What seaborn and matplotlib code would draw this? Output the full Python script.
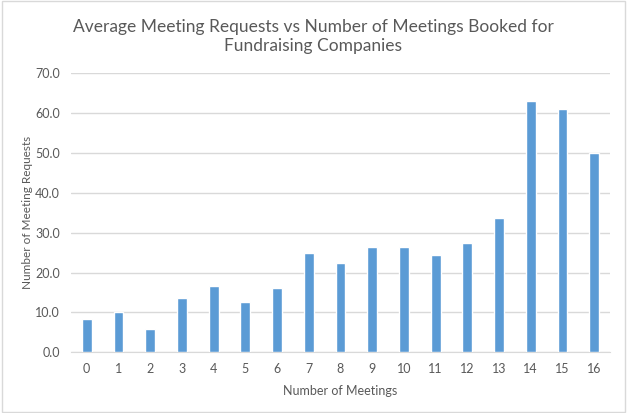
import pandas as pd
import matplotlib.pyplot as plt
import matplotlib.patches as mpatches
import seaborn as sns

# data
meetings = list(range(17))
avg_requests = [8.3, 10.1, 5.8, 13.6, 16.6, 12.6, 16.1, 24.9, 22.4, 26.4,
                26.4, 24.4, 27.4, 33.6, 63.0, 61.0, 50.0]
y_ticks = [0, 10, 20, 30, 40, 50, 60, 70]

title = "Average Meeting Requests vs Number of Meetings Booked for\nFundraising Companies"
x_label = "Number of Meetings"
y_label = "Number of Meeting Requests"

sns.set_style("white")
plt.rcParams['font.family'] = ['Lato', 'DejaVu Sans']

text_grey = "#595959"
grid_grey = "#D9D9D9"

df = pd.DataFrame({"meetings": meetings, "requests": avg_requests})

fig = plt.figure(figsize=(6.27, 4.13), dpi=100)
ax = fig.add_axes([0.113, 0.147, 0.86, 0.676])

sns.barplot(data=df, x="meetings", y="requests", color="#5B9BD5",
            width=0.31, saturation=1, ax=ax, zorder=3)

ax.set_xlim(-0.5, len(meetings) - 0.5)
ax.set_ylim(0, 70)
ax.set_yticks(y_ticks)
ax.set_yticklabels([f"{v:.1f}" for v in y_ticks])
ax.yaxis.grid(True, color=grid_grey, linewidth=1, zorder=0)

for side in ["top", "right", "left"]:
    ax.spines[side].set_visible(False)
ax.spines["bottom"].set_color(grid_grey)
ax.tick_params(axis="both", length=0, labelsize=9, colors=text_grey, pad=8)

ax.set_xlabel(x_label, fontsize=9, color=text_grey, labelpad=7)
ax.set_ylabel(y_label, fontsize=8.5, color=text_grey, labelpad=1)

fig.text(0.5, 0.955, title, ha="center", va="top", fontsize=12.5,
         color=text_grey, linespacing=1.3)

# light chart frame like the spreadsheet export
fig.patches.append(mpatches.Rectangle((0.003, 0.003), 0.994, 0.994, transform=fig.transFigure,
                                      fill=False, edgecolor=grid_grey, linewidth=1))

fig.savefig("out.png", dpi=100)
